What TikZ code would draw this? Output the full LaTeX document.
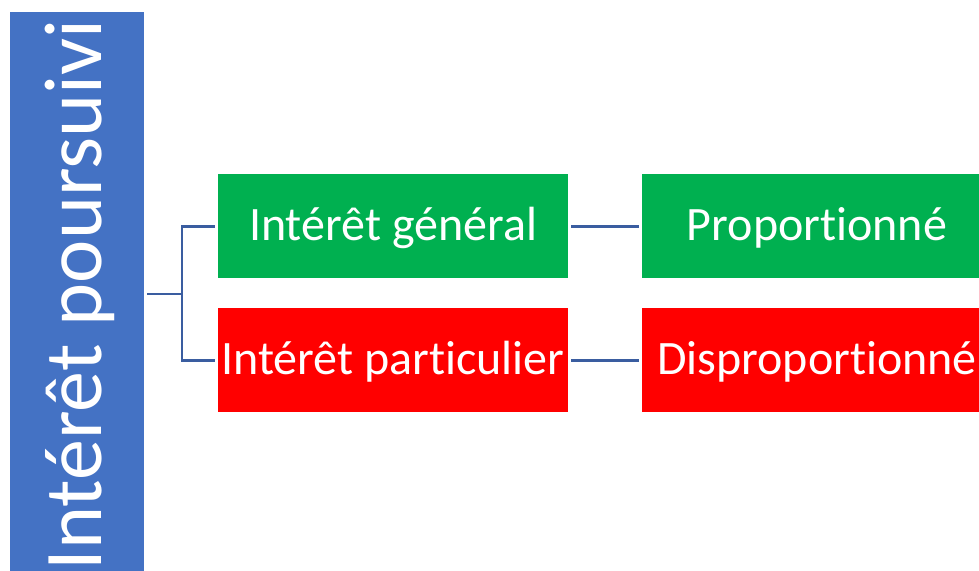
\documentclass[tikz,border=0pt]{standalone}
\usepackage{fontspec}
\setmainfont{Carlito}[Ligatures={NoCommon,NoRequired},Contextuals={NoAlternate}]
\definecolor{barblue}{HTML}{4472C4}
\definecolor{boxgreen}{HTML}{00B050}
\definecolor{boxred}{HTML}{FF0000}
\definecolor{linkblue}{HTML}{3A5DA0}
\begin{document}
\begin{tikzpicture}[x=1pt,y=1pt,
  box/.style={minimum width=350pt,minimum height=104pt,inner sep=0pt,text=white,
    font=\fontsize{48}{57}\selectfont,text height=29pt,text depth=0pt},
  link/.style={draw=linkblue,line width=2.2pt}]
\useasboundingbox (0,0) rectangle (979,570);
\clip (0,0) rectangle (979,570);
\node[fill=barblue,minimum width=134pt,minimum height=566pt,inner sep=0pt] (bar) at (77,275) {};
\node[rotate=90,anchor=base,text=white,inner sep=0pt,font=\fontsize{82}{98}\selectfont] (bartext) at (101,275) {Intérêt poursuivi};
\node[box,fill=boxgreen] (g1) at (393,343.5) {Intérêt général};
\node[box,fill=boxred] (r1) at (393,209.5) {Intérêt particulier};
\node[box,fill=boxgreen] (g2) at (817,343.5) {Proportionné};
\node[box,fill=boxred] (r2) at (817,209.5) {Disproportionné};
\coordinate (j) at (182,276);
\draw[link] ([xshift=3pt]bar.east |- j) -- (j);
\draw[link,shorten >=3pt] (j) |- (g1.west);
\draw[link,shorten >=3pt] (j) |- (r1.west);
\draw[link,shorten >=3pt,shorten <=3pt] (g1.east) -- (g2.west);
\draw[link,shorten >=3pt,shorten <=3pt] (r1.east) -- (r2.west);
\end{tikzpicture}
\end{document}
